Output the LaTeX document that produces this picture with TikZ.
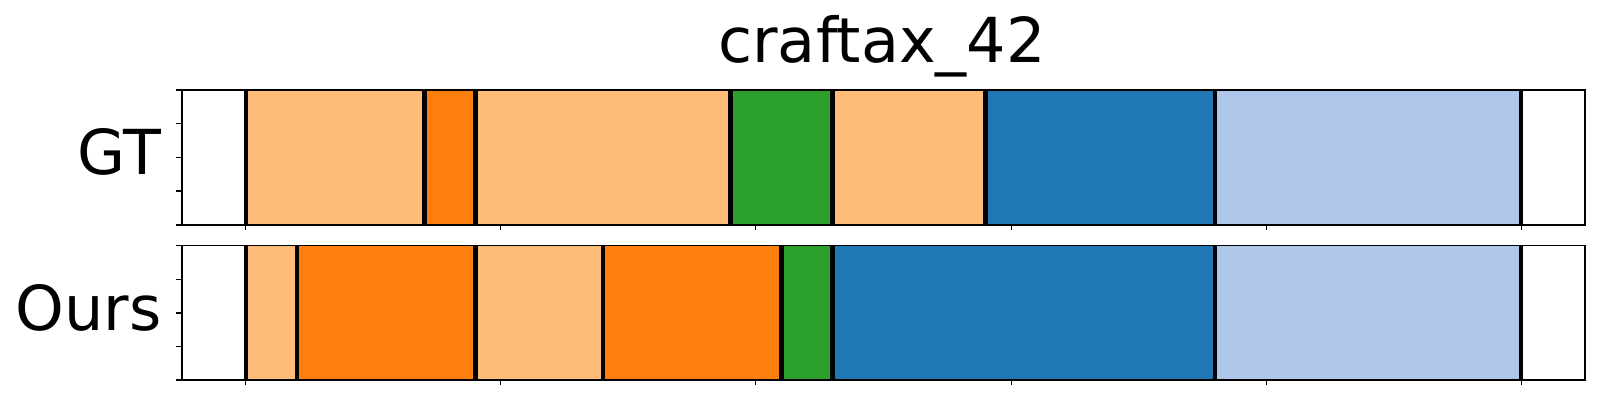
\documentclass[tikz,border=0pt]{standalone}
\usepackage{fontspec}
\setmainfont{DejaVu Sans}
\definecolor{tabOrange}{HTML}{FF7F0E}
\definecolor{tabLightOrange}{HTML}{FFBB78}
\definecolor{tabGreen}{HTML}{2CA02C}
\definecolor{tabBlue}{HTML}{1F77B4}
\definecolor{tabLightBlue}{HTML}{AEC7E8}
\tikzset{
  segbar/.style={fill=#1},
  bound/.style={line width=2.2pt, black},
  axframe/.style={line width=0.75pt, black},
  ytick/.style={line width=0.75pt, black},
  xtick/.style={line width=0.5pt, black},
  biglabel/.style={inner sep=0pt, font=\fontsize{31}{37}\selectfont}
}
\begin{document}
\begin{tikzpicture}[x=0.5pt,y=0.5pt,yscale=-1,xscale=1]
\useasboundingbox (0,0) rectangle (1600,400);

% Title
\node [biglabel, anchor=base] (title) at (882,63) {craftax\_42};

%Shape: GT segments
\foreach \a/\b/\c in {245.7/424.3/tabLightOrange, 424.3/475.3/tabOrange, 475.3/730.4/tabLightOrange, 730.4/832.4/tabGreen, 832.4/985.5/tabLightOrange, 985.5/1215.1/tabBlue, 1215.1/1521.2/tabLightBlue}
  \fill [segbar=\c] (\a,90) rectangle (\b,225);
\foreach \x in {245.7,424.3,475.3,730.4,832.4,985.5,1215.1,1521.2}
  \draw [bound] (\x,90) -- (\x,225);

%Shape: Ours segments
\foreach \a/\b/\c in {245.7/296.7/tabLightOrange, 296.7/475.3/tabOrange, 475.3/602.8/tabLightOrange, 602.8/781.4/tabOrange, 781.4/832.4/tabGreen, 832.4/1215.1/tabBlue, 1215.1/1521.2/tabLightBlue}
  \fill [segbar=\c] (\a,245.7) rectangle (\b,380);
\foreach \x in {245.7,296.7,475.3,602.8,781.4,832.4,1215.1,1521.2}
  \draw [bound] (\x,245.7) -- (\x,380);

%Axes frames and ticks
\draw [axframe] (181.9,90) rectangle (1585,225);
\draw [axframe] (181.9,245.7) rectangle (1585,380);
\foreach \y in {90,123.75,157.5,191.25,225,245.7,279.3,312.85,346.4,380}
  \draw [ytick] (181.9,\y) -- ++(-6,0);
\foreach \x in {245.7,500.8,755.9,1011,1266.1,1521.2}{
  \draw [xtick] (\x,225) -- ++(0,5);
  \draw [xtick] (\x,380) -- ++(0,5);
}

% Text Node
\node [biglabel, anchor=base east] (gtlabel) at (162,175) {GT};
% Text Node
\node [biglabel, anchor=base east] (ourslabel) at (162,331) {Ours};

\end{tikzpicture}
\end{document}
